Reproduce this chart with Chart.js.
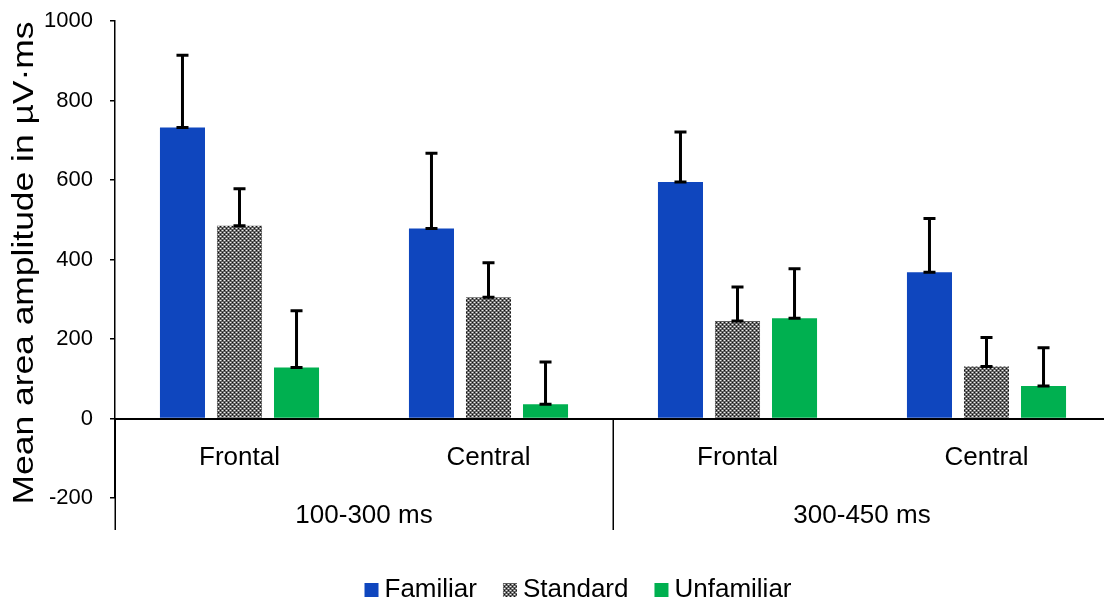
<!DOCTYPE html>
<html>
<head>
<meta charset="utf-8">
<script src="https://cdn.jsdelivr.net/npm/chart.js@4.4.1/dist/chart.umd.min.js"></script>
<style>
  html, body { margin: 0; padding: 0; background: #ffffff; overflow: hidden; }
  #wrap { width: 1104px; height: 603px; overflow: hidden; position: relative; }
  #wrap canvas { display: block; }
</style>
</head>
<body>
<div id="wrap"><canvas id="chart" width="1111" height="603"></canvas></div>
<script>
// Electrode regions (inner category level) and time windows (outer level)
const regions = ['Frontal', 'Central', 'Frontal', 'Central'];
const timeWindows = ['100-300 ms', '300-450 ms'];
const seriesNames = ['Familiar', 'Standard', 'Unfamiliar'];

// Mean area amplitude (µV·ms)
const familiar   = [732, 478, 595, 368];
const standard   = [485, 305, 245, 131];
const unfamiliar = [128, 36, 252, 82];

// Upper error bar lengths
const familiarErr   = [182, 189, 126, 135];
const standardErr   = [93, 87, 86, 73];
const unfamiliarErr = [143, 106, 125, 96];

// Value axis
const yMin = -200;
const yMax = 1000;
const yStep = 200;
const yTitle = 'Mean area amplitude in µV·ms';

const FONT = '"Liberation Sans", Arial, Helvetica, sans-serif';
const BLUE = '#0F46BE';
const GREEN = '#00B050';

// Dotted dark-grey fill used for the Standard series
function makeDotPattern() {
  const t = document.createElement('canvas');
  t.width = 4; t.height = 4;
  const g = t.getContext('2d');
  g.fillStyle = '#5e5e5e';
  g.fillRect(0, 0, 4, 4);
  g.fillStyle = '#8a8a8a';
  g.fillRect(1, 0, 1, 1); g.fillRect(3, 0, 1, 1);
  g.fillRect(1, 2, 1, 1); g.fillRect(3, 2, 1, 1);
  g.fillStyle = '#f0f0f0';
  g.fillRect(0, 0, 1, 1);
  g.fillRect(2, 2, 1, 1);
  g.fillStyle = '#101010';
  g.fillRect(2, 0, 1, 1);
  g.fillRect(0, 2, 1, 1);
  const ctx = document.getElementById('chart').getContext('2d');
  return ctx.createPattern(t, 'repeat');
}
const dotPattern = makeDotPattern();

const seriesValues = [familiar, standard, unfamiliar];
const seriesErrors = [familiarErr, standardErr, unfamiliarErr];
const seriesFills = [BLUE, dotPattern, GREEN];

// Upward error bars with caps at both ends
const errorBars = {
  id: 'errorBars',
  afterDatasetsDraw(chart) {
    const ctx = chart.ctx;
    const ys = chart.scales.y;
    ctx.save();
    ctx.strokeStyle = '#000000';
    ctx.lineWidth = 3;
    chart.data.datasets.forEach((ds, di) => {
      const meta = chart.getDatasetMeta(di);
      meta.data.forEach((bar, i) => {
        const v = ds.data[i];
        const e = seriesErrors[di][i];
        const x = bar.x;
        const y0 = ys.getPixelForValue(v);
        const y1 = ys.getPixelForValue(v + e);
        const cap = 6;
        ctx.beginPath();
        ctx.moveTo(x, y0); ctx.lineTo(x, y1);
        ctx.moveTo(x - cap, y1); ctx.lineTo(x + cap, y1);
        ctx.moveTo(x - cap, y0); ctx.lineTo(x + cap, y0);
        ctx.stroke();
      });
    });
    ctx.restore();
  }
};

// Outer category level: time-window labels and separators
const groupAxis = {
  id: 'groupAxis',
  afterDraw(chart) {
    const ctx = chart.ctx;
    const xs = chart.scales.x;
    const ys = chart.scales.y;
    const catW = (xs.right - xs.left) / regions.length;
    const zeroY = ys.getPixelForValue(0);
    const bottomY = 530;
    ctx.save();
    ctx.strokeStyle = '#000000';
    ctx.lineWidth = 1.5;
    const perGroup = regions.length / timeWindows.length;
    for (let g = 0; g <= timeWindows.length; g++) {
      const x = Math.round(xs.left + g * perGroup * catW) + 0.25;
      ctx.beginPath();
      ctx.moveTo(x, zeroY);
      ctx.lineTo(x, bottomY);
      ctx.stroke();
    }
    ctx.fillStyle = '#000000';
    ctx.font = '26px ' + FONT;
    ctx.textAlign = 'center';
    ctx.textBaseline = 'middle';
    timeWindows.forEach((label, g) => {
      const cx = xs.left + (g + 0.5) * perGroup * catW;
      ctx.fillText(label, cx, 516);
    });
    ctx.restore();
  }
};

// Rotated value-axis title
const yAxisTitle = {
  id: 'yAxisTitle',
  afterDraw(chart) {
    const ctx = chart.ctx;
    ctx.save();
    ctx.font = '30px ' + FONT;
    ctx.fillStyle = '#000000';
    ctx.textAlign = 'center';
    ctx.textBaseline = 'middle';
    const w = ctx.measureText(yTitle).width;
    const target = 483;
    ctx.translate(25, 263);
    ctx.rotate(-Math.PI / 2);
    ctx.scale(target / w, 1);
    ctx.fillText(yTitle, 0, 0);
    ctx.restore();
  }
};

// Legend row under the chart
const bottomLegend = {
  id: 'bottomLegend',
  afterDraw(chart) {
    const ctx = chart.ctx;
    ctx.save();
    ctx.font = '26px ' + FONT;
    ctx.textBaseline = 'middle';
    ctx.textAlign = 'left';
    const box = 14, gap = 6, spacing = 26;
    const widths = seriesNames.map(n => ctx.measureText(n).width);
    const total = widths.reduce((a, w) => a + box + gap + w, 0) + spacing * (seriesNames.length - 1);
    let x = 578 - total / 2;
    const cy = 590;
    seriesNames.forEach((name, i) => {
      ctx.fillStyle = seriesFills[i];
      ctx.fillRect(x, cy - box / 2, box, box);
      ctx.fillStyle = '#000000';
      ctx.fillText(name, x + box + gap, cy);
      x += box + gap + widths[i] + spacing;
    });
    ctx.restore();
  }
};

new Chart(document.getElementById('chart'), {
  type: 'bar',
  data: {
    labels: regions,
    datasets: seriesNames.map((name, i) => ({
      label: name,
      data: seriesValues[i],
      backgroundColor: seriesFills[i],
      borderWidth: 0,
      categoryPercentage: 0.687,
      barPercentage: 0.79
    }))
  },
  options: {
    responsive: false,
    animation: false,
    devicePixelRatio: 1,
    layout: { padding: { left: 0, right: 0, top: 21, bottom: 105 } },
    plugins: {
      legend: { display: false },
      tooltip: { enabled: false }
    },
    scales: {
      x: {
        position: { y: 0 },
        grid: { display: false, drawTicks: false },
        border: { display: true, color: '#000000', width: 2 },
        ticks: {
          color: '#000000',
          font: { family: FONT, size: 26 },
          padding: 24,
          maxRotation: 0,
          autoSkip: false
        }
      },
      y: {
        position: 'left',
        min: yMin,
        max: yMax,
        afterFit(scale) {
          scale.width = 115;
          scale.paddingTop = 0;
          scale.paddingBottom = 0;
        },
        grid: {
          drawOnChartArea: false,
          drawTicks: true,
          tickLength: 5,
          color: '#000000',
          lineWidth: 1.5
        },
        border: { display: true, color: '#000000', width: 1.5 },
        ticks: {
          stepSize: yStep,
          color: '#000000',
          font: { family: FONT, size: 22 },
          padding: 17,
          callback: (v) => String(v)
        }
      }
    }
  },
  plugins: [errorBars, groupAxis, yAxisTitle, bottomLegend]
});
</script>
</body>
</html>
